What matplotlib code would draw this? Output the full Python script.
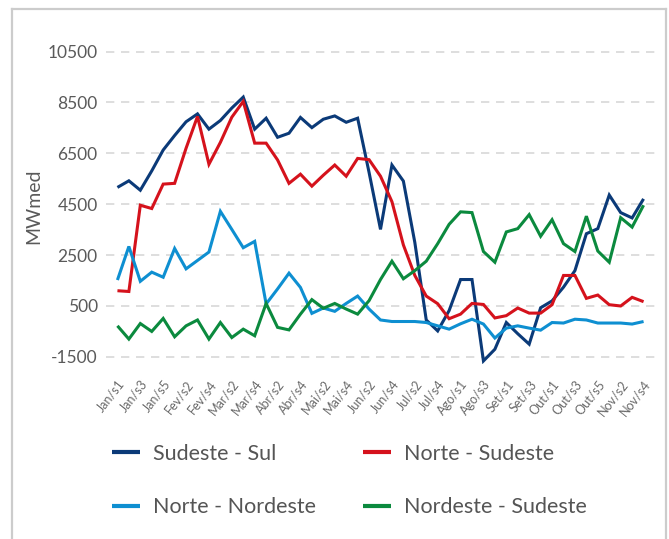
import matplotlib
matplotlib.use("Agg")
import matplotlib.pyplot as plt
from matplotlib.lines import Line2D

plt.rcParams['font.family'] = ['Lato', 'DejaVu Sans']

months = [("Jan", 5), ("Fev", 4), ("Mar", 4), ("Abr", 4), ("Mai", 4), ("Jun", 4),
          ("Jul", 5), ("Ago", 4), ("Set", 4), ("Out", 5), ("Nov", 4)]
weeks = [f"{m}/s{k}" for m, n in months for k in range(1, n + 1)]

sudeste_sul = [5160, 5420, 5050, 5810, 6630, 7200, 7740, 8050, 7450, 7790, 8280, 8710,
               7450, 7880, 7130, 7290, 7910, 7510, 7840, 7970, 7720, 7880, 5750, 3510,
               6040, 5410, 3000, -50, -480, 320, 1540, 1540, -1660, -1200, -150, -590,
               -1000, 430, 700, 1240, 1890, 3340, 3540, 4860, 4170, 3960, 4710]
norte_sudeste = [1100, 1070, 4460, 4330, 5290, 5320, 6700, 7950, 6070, 6930, 7920, 8540,
                 6900, 6900, 6240, 5320, 5680, 5210, 5640, 6040, 5600, 6300, 6250, 5600,
                 4600, 2900, 1700, 890, 590, 0, 180, 600, 560, 30, 120, 420, 220, 220,
                 550, 1700, 1700, 800, 930, 550, 500, 840, 670]
norte_nordeste = [1520, 2840, 1470, 1830, 1630, 2760, 1960, 2290, 2620, 4220, 3510, 2790,
                  3040, 580, 1170, 1790, 1230, 210, 420, 290, 600, 890, 380, -50, -110,
                  -110, -110, -150, -280, -410, -200, -20, -210, -760, -370, -280, -370,
                  -450, -150, -170, -20, -50, -170, -170, -170, -210, -110]
nordeste_sudeste = [-280, -800, -190, -500, 10, -710, -280, -50, -800, -150, -740, -410,
                    -670, 600, -340, -440, 180, 750, 410, 600, 380, 180, 710, 1540, 2260,
                    1570, 1890, 2260, 2950, 3710, 4200, 4170, 2640, 2220, 3410, 3540, 4090,
                    3240, 3890, 2950, 2640, 4030, 2660, 2220, 3970, 3600, 4460]

series = [
    ("Sudeste - Sul", sudeste_sul, "#0b3a78"),
    ("Norte - Sudeste", norte_sudeste, "#d5121c"),
    ("Norte - Nordeste", norte_nordeste, "#0e8fd1"),
    ("Nordeste - Sudeste", nordeste_sudeste, "#0b8a3e"),
]
yticks = [-1500, 500, 2500, 4500, 6500, 8500, 10500]

W, H = 669, 539
fig = plt.figure(figsize=(W / 100, H / 100), dpi=100)
ax = fig.add_axes([106 / W, 1 - 364 / H, 549 / W, 315 / H])

x = list(range(len(weeks)))
handles = {}
for name, vals, col in series:
    h, = ax.plot(x, vals, color=col, lw=2.2, label=name, solid_joinstyle='miter',
                 solid_capstyle='butt')
    handles[name] = h

ax.set_xlim(-1, len(weeks))
ax.set_ylim(-1780, 10600)
ax.set_yticks(yticks)
ax.set_yticklabels([str(v) for v in yticks])
ax.set_xticks(x[::2])
ax.set_xticklabels(weeks[::2], rotation=52, ha='right', va='top',
                   rotation_mode='anchor')
ax.tick_params(axis='y', length=0, pad=6, labelsize=12.5, labelcolor='#5a5a5a')
ax.tick_params(axis='x', length=0, pad=10, labelsize=9, labelcolor='#6a6a6a')
for s in ax.spines.values():
    s.set_visible(False)
ax.grid(axis='y', color='#d8d8d8', lw=1.2, ls=(0, (5, 4)))
ax.set_axisbelow(True)
ax.set_ylabel("MWmed", fontsize=14, color='#5a5a5a', labelpad=4)

order = ["Sudeste - Sul", "Norte - Nordeste", "Norte - Sudeste", "Nordeste - Sudeste"]
leg = fig.legend(handles=[handles[n] for n in order], loc='upper left', ncol=2,
                 bbox_to_anchor=(112 / W, 1 - 444 / H), frameon=False,
                 fontsize=15.5, handlelength=1.3, handletextpad=0.6,
                 columnspacing=2.2, labelspacing=1.55, borderpad=0, borderaxespad=0)
for t in leg.get_texts():
    t.set_color('#555555')
for lh in leg.get_lines():
    lh.set_linewidth(3)

# outer frame
fc = '#cccccc'
fig.add_artist(Line2D([12 / W, 12 / W], [0, 1 - 9 / H], color=fc, lw=1.6))
fig.add_artist(Line2D([666 / W, 666 / W], [0, 1 - 9 / H], color=fc, lw=1.6))
fig.add_artist(Line2D([12 / W, 666 / W], [1 - 9 / H, 1 - 9 / H], color=fc, lw=1.6))

fig.savefig("out.png", dpi=100)
